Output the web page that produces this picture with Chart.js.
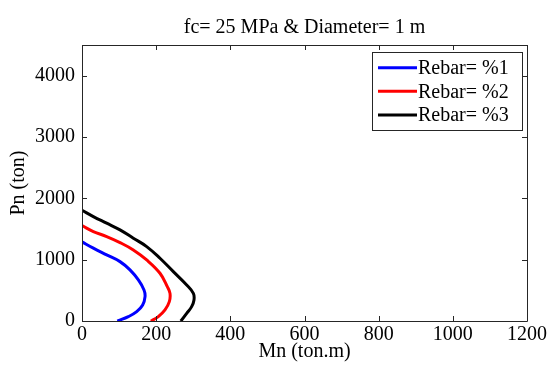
<!DOCTYPE html>
<html>
<head>
<meta charset="utf-8">
<script src="https://cdn.jsdelivr.net/npm/chart.js@4/dist/chart.umd.min.js"></script>
<style>
html,body{margin:0;padding:0;background:#fff;}
#wrap{width:549px;height:365px;position:relative;}
</style>
</head>
<body>
<div id="wrap"><canvas id="c" width="549" height="365"></canvas></div>
<script>
const seriesLabels = ["Rebar= %1", "Rebar= %2", "Rebar= %3"];
const seriesColors = ["#0000ff", "#ff0000", "#000000"];
const mn1 = [0, 30.6, 66.5, 102.5, 129.4, 152, 167.2, 170, 163.6, 147.5, 125, 98, 95];
const pn1 = [1290, 1187, 1078, 968, 833, 669, 506, 397, 261, 152, 71, 5, 0];
const mn2 = [0, 30.6, 66.5, 102.5, 138.4, 174.4, 210.3, 230, 237.3, 235.5, 223.8, 205.8, 188, 185];
const pn2 = [1555, 1458, 1377, 1279, 1159, 996, 778, 560, 451, 315, 180, 71, 5, 0];
const mn3 = [0, 30.6, 66.5, 102.5, 138.4, 174.4, 210.3, 246.3, 282.3, 300.3, 302, 295.7, 282.3, 268.8, 266];
const pn3 = [1805, 1703, 1595, 1486, 1350, 1213, 1023, 805, 588, 451, 343, 234, 125, 16, 0];
const xTickValues = [0, 200, 400, 600, 800, 1000, 1200];
const yTickValues = [0, 1000, 2000, 3000, 4000];
const titleText = "fc= 25 MPa & Diameter= 1 m";
const xTitle = "Mn (ton.m)";
const yTitle = "Pn (ton)";

const FONT = "'Liberation Serif','Times New Roman',serif";
const FS = 20;
const mns = [mn1, mn2, mn3];
const pns = [pn1, pn2, pn3];
const datasets = seriesLabels.map((lab, i) => ({
  label: lab,
  data: mns[i].map((x, j) => ({x: x, y: pns[i][j]})),
  borderColor: seriesColors[i],
  backgroundColor: seriesColors[i],
  borderWidth: 3,
  showLine: true,
  pointRadius: 0,
  tension: 0.4,
  fill: false
}));

const boxPlugin = {
  id: 'boxPlugin',
  afterDraw(chart) {
    const {ctx, chartArea: a, scales} = chart;
    ctx.save();
    ctx.strokeStyle = '#262626';
    ctx.lineWidth = 1;
    ctx.beginPath();
    ctx.rect(Math.round(a.left) + 0.5, Math.round(a.top) + 0.5, Math.round(a.right - a.left), Math.round(a.bottom - a.top));
    ctx.stroke();
    const tl = 5;
    ctx.beginPath();
    scales.x.ticks.forEach(t => {
      const px = Math.round(scales.x.getPixelForValue(t.value)) + 0.5;
      ctx.moveTo(px, a.bottom); ctx.lineTo(px, a.bottom - tl);
      ctx.moveTo(px, a.top); ctx.lineTo(px, a.top + tl);
    });
    scales.y.ticks.forEach(t => {
      const py = Math.round(scales.y.getPixelForValue(t.value)) + 0.5;
      ctx.moveTo(a.left, py); ctx.lineTo(a.left + tl, py);
      ctx.moveTo(a.right, py); ctx.lineTo(a.right - tl, py);
    });
    ctx.stroke();
    // legend
    const L = 372, T = 52, R = 522, B = 130;
    ctx.fillStyle = '#fff';
    ctx.fillRect(L, T, R - L, B - T);
    ctx.strokeStyle = '#262626';
    ctx.lineWidth = 1;
    ctx.strokeRect(L + 0.5, T + 0.5, R - L, B - T);
    const rowY = [67.7, 91.3, 115];
    chart.data.datasets.forEach((ds, i) => {
      ctx.strokeStyle = ds.borderColor;
      ctx.lineWidth = 3;
      ctx.beginPath();
      ctx.moveTo(378, rowY[i]); ctx.lineTo(417, rowY[i]);
      ctx.stroke();
      ctx.fillStyle = '#000';
      ctx.font = FS + "px " + FONT;
      ctx.textAlign = 'left';
      ctx.textBaseline = 'middle';
      ctx.fillText(ds.label, 418, rowY[i] + 1);
    });
    ctx.restore();
  }
};

new Chart(document.getElementById('c'), {
  type: 'scatter',
  data: {datasets: datasets},
  options: {
    responsive: false,
    animation: false,
    layout: {padding: {left: 0, right: 22, top: 0, bottom: 0}},
    plugins: {
      legend: {display: false},
      tooltip: {enabled: false},
      title: {
        display: true,
        fullSize: false,
        text: titleText,
        color: '#000',
        font: {family: FONT, size: FS, weight: 'normal'},
        padding: {top: 16, bottom: 5}
      }
    },
    scales: {
      x: {
        type: 'linear', min: 0, max: 1200,
        afterFit(s) { s.height = 44; },
        afterBuildTicks(s) { s.ticks = xTickValues.map(v => ({value: v})); },
        grid: {display: false, drawTicks: false},
        border: {display: false},
        ticks: {color: '#000', padding: 2, maxRotation: 0, autoSkip: false,
                callback: v => String(v),
                font: {family: FONT, size: FS}},
        title: {display: true, text: xTitle, color: '#000', font: {family: FONT, size: FS},
                padding: {top: 0, bottom: 1}}
      },
      y: {
        type: 'linear', min: 0, max: 4500,
        afterFit(s) { s.width = 82; },
        afterBuildTicks(s) { s.ticks = yTickValues.map(v => ({value: v})); },
        grid: {display: false, drawTicks: false},
        border: {display: false},
        ticks: {color: '#000', padding: 7, autoSkip: false,
                callback: v => String(v),
                font: {family: FONT, size: FS}},
        title: {display: true, text: yTitle, color: '#000', font: {family: FONT, size: FS},
                padding: {top: 7, bottom: 0}}
      }
    }
  },
  plugins: [boxPlugin]
});
</script>
</body>
</html>
